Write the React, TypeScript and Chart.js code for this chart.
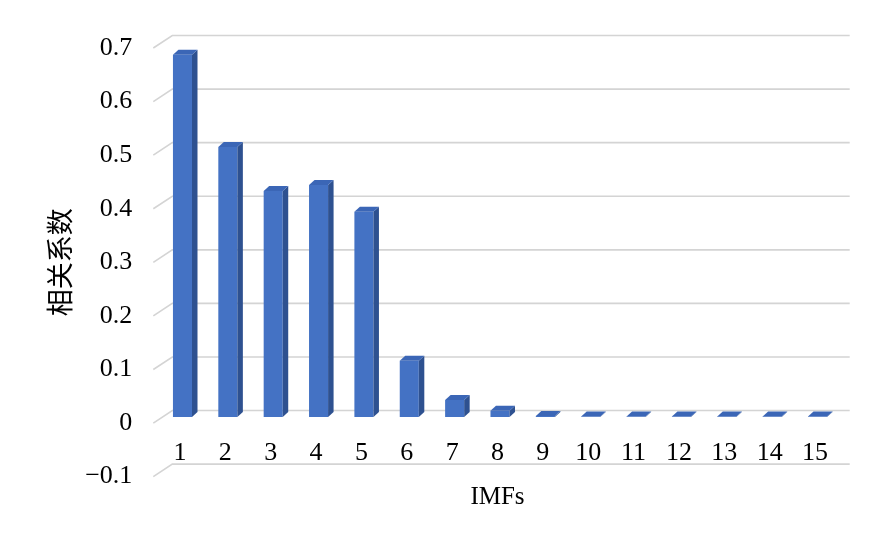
import React, { useEffect, useRef } from "react";
import { Chart, registerables } from "chart.js";

Chart.register(...registerables);

const categories: string[] = ["1", "2", "3", "4", "5", "6", "7", "8", "9", "10", "11", "12", "13", "14", "15"];
const correlation: number[] = [0.676, 0.504, 0.422, 0.433, 0.383, 0.105, 0.032, 0.012, 0.002, 0.001, 0.001, 0.001, 0.001, 0.001, 0.001];
const yTicksMin = -0.1;
const yTicksMax = 0.7;
const yTickStep = 0.1;
const yTitle = "相关系数";
const xTitle = "IMFs";

const FRONT = "#4472C4";
const SIDE = "#2E5190";
const TOP = "#3B66B6";
const GRID = "#d4d4d4";

const threeD = {
  id: "threeD",
  beforeDatasetsDraw(chart: any) {
    const ctx = chart.ctx;
    const y = chart.scales.y;
    const area = chart.chartArea;
    ctx.save();
    ctx.strokeStyle = GRID;
    ctx.lineWidth = 1.6;
    for (const t of y.ticks) {
      const py = y.getPixelForValue(t.value);
      ctx.beginPath();
      ctx.moveTo(area.left - 4, py);
      ctx.lineTo(area.left + 15, py - 12.5);
      ctx.lineTo(area.right + 12, py - 12.5);
      ctx.stroke();
    }
    ctx.restore();
    const x = chart.scales.x;
    const y0 = y.getPixelForValue(0);
    ctx.save();
    ctx.fillStyle = "#000";
    ctx.font = "26px 'Liberation Serif'";
    ctx.textAlign = "center";
    ctx.textBaseline = "middle";
    categories.forEach((c, i) => {
      ctx.fillText(c, x.getPixelForValue(i), y0 + 30);
    });
    ctx.restore();
    ctx.save();
    ctx.translate(2.5, -6);
  },
  afterDatasetsDraw(chart: any) {
    const ctx = chart.ctx;
    const dx = 5.5;
    const dy = 5;
    const meta = chart.getDatasetMeta(0);
    meta.data.forEach((bar: any) => {
      const { x, y, base, width } = bar.getProps(["x", "y", "base", "width"], true);
      const l = x - width / 2;
      const r = x + width / 2;
      ctx.fillStyle = SIDE;
      ctx.beginPath();
      ctx.moveTo(r, y);
      ctx.lineTo(r + dx, y - dy);
      ctx.lineTo(r + dx, base - dy);
      ctx.lineTo(r, base);
      ctx.closePath();
      ctx.fill();
      ctx.fillStyle = TOP;
      ctx.beginPath();
      ctx.moveTo(l, y);
      ctx.lineTo(l + dx, y - dy);
      ctx.lineTo(r + dx, y - dy);
      ctx.lineTo(r, y);
      ctx.closePath();
      ctx.fill();
    });
    ctx.restore();
  },
};

export default function App() {
  const ref = useRef<HTMLCanvasElement | null>(null);
  useEffect(() => {
    if (!ref.current) return;
    const chart = new Chart(ref.current, {
      type: "bar",
      data: {
        labels: categories,
        datasets: [
          {
            label: yTitle,
            data: correlation,
            backgroundColor: FRONT,
            borderWidth: 0,
            barPercentage: 0.42,
            categoryPercentage: 1,
          },
        ],
      },
      options: {
        responsive: false,
        animation: false,
        devicePixelRatio: 1,
        layout: { padding: { left: 44, top: 48, right: 57.3, bottom: 32.6 } },
        plugins: { legend: { display: false }, tooltip: { enabled: false } },
        scales: {
          x: {
            grid: { display: false, drawTicks: false, tickLength: 0 },
            border: { display: false },
            ticks: { display: false, padding: 0 },
            title: {
              display: true,
              text: xTitle,
              color: "#000",
              font: { family: "'Liberation Serif'", size: 25, lineHeight: 1.63 },
              padding: 0,
            },
          },
          y: {
            min: yTicksMin,
            max: yTicksMax,
            grid: { display: false },
            border: { display: false },
            afterFit(scale: any) {
              scale.width = 113.3;
            },
            ticks: {
              stepSize: yTickStep,
              color: "#000",
              padding: 17,
              font: { family: "'Liberation Serif'", size: 26 },
              callback: (v: any) => {
                const n = Number(Number(v).toFixed(1));
                return n < 0 ? "−" + String(-n) : String(n);
              },
            },
            title: {
              display: true,
              text: yTitle,
              color: "#000",
              font: { family: "'Noto Sans CJK SC'", size: 27, lineHeight: 1.2 },
              padding: 0,
            },
          },
        },
      },
      plugins: [threeD],
    });
    return () => chart.destroy();
  }, []);
  return (
    <div style={{ position: "absolute", left: 0, top: 0, width: 895, height: 550, background: "#fff" }}>
      <canvas ref={ref} width={895} height={550} />
    </div>
  );
}
